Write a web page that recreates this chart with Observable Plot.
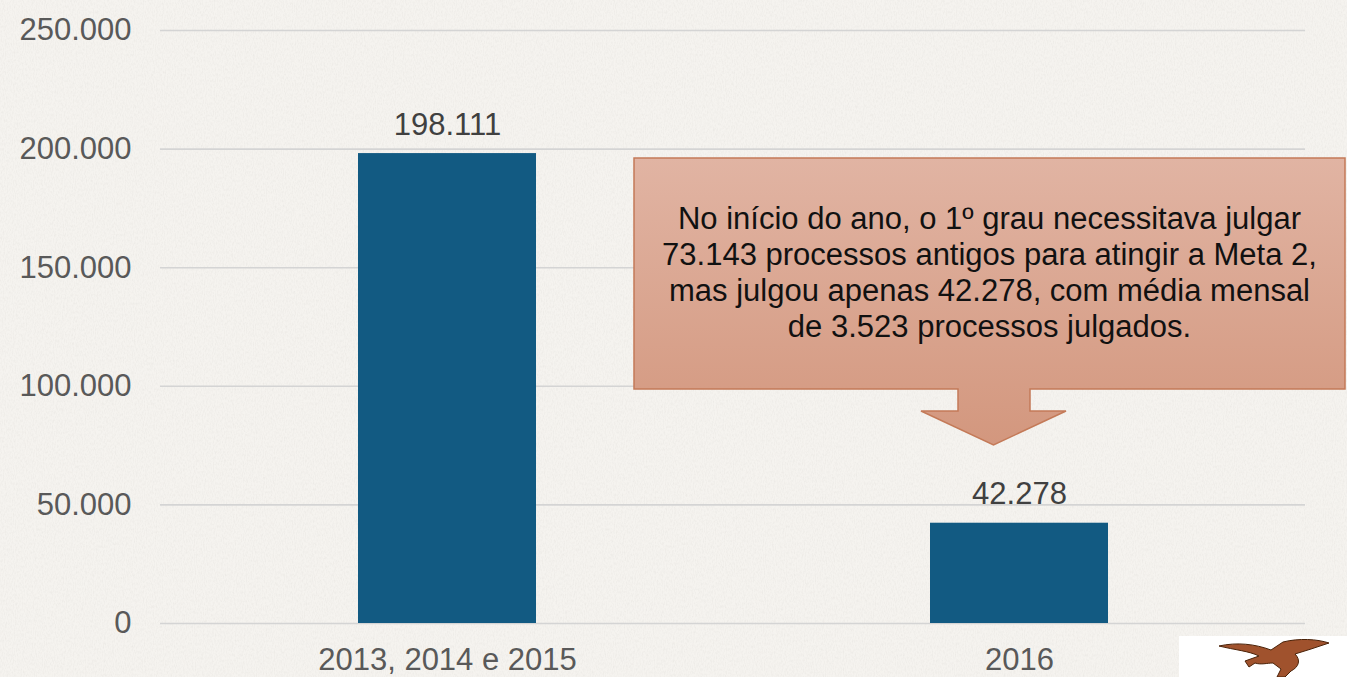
<!DOCTYPE html>
<html>
<head>
<meta charset="utf-8">
<script src="https://cdn.jsdelivr.net/npm/d3@7"></script>
<script src="https://cdn.jsdelivr.net/npm/@observablehq/plot@0.6"></script>
<style>
  html, body { margin: 0; padding: 0; overflow: hidden; }
  body { width: 1347px; height: 677px; background: #f4f2ee; }
  #wrap { position: relative; width: 1347px; height: 677px; }
  #bgtex { position: absolute; left: 0; top: 0; }
  #chart { position: absolute; left: 0; top: 0; }
  #callout { position: absolute; left: 0; top: 0; pointer-events: none; }
  #logo { position: absolute; left: 1179px; top: 636px; }
</style>
</head>
<body>
<div id="wrap">
  <svg id="bgtex" width="1347" height="677">
    <filter id="paper">
      <feTurbulence type="fractalNoise" baseFrequency="0.9 0.35" numOctaves="3" seed="4"/>
      <feColorMatrix type="matrix" values="0 0 0 0 0.55  0 0 0 0 0.53  0 0 0 0 0.5  0 0 0 0.9 -0.35"/>
    </filter>
    <rect width="1347" height="677" fill="#f5f3ef"/>
    <rect width="1347" height="677" filter="url(#paper)" opacity="0.35"/>
  </svg>
  <div id="chart"></div>
  <svg id="callout" width="1347" height="677"></svg>
  <svg id="logo" width="168" height="41">
    <rect width="168" height="41" fill="#ffffff"/>
    <path d="M40,10 C58,6 76,8 92,14 L104,6 C120,2 138,3 150,7 L132,13 L116,18 C122,24 120,31 112,35 L106,41 L98,41 L102,33 L94,27 C88,27 82,29 76,27 L70,31 L66,25 L80,20 C70,15 56,14 40,10 Z" fill="#a0522d" stroke="#4a2208" stroke-width="1"/>
  </svg>
</div>
<script>
// ---- data ----
const categories = ["2013, 2014 e 2015", "2016"];
const values = [198111, 42278];
const yTicks = [0, 50000, 100000, 150000, 200000, 250000];
const calloutLines = [
  "No início do ano, o 1º grau necessitava julgar",
  "73.143 processos antigos para atingir a Meta 2,",
  "mas julgou apenas 42.278, com média mensal",
  "de 3.523 processos julgados."
];

const data = categories.map((c, i) => ({category: c, value: values[i]}));

const locale = d3.formatLocale({decimal: ",", thousands: ".", grouping: [3], currency: ["", ""]});
const fmt = locale.format(",d");

const font = "'Liberation Sans', Arial, sans-serif";
const fs = 31;

const chart = Plot.plot({
  width: 1347,
  height: 677,
  marginLeft: 160,
  marginRight: 42,
  marginTop: 30,
  marginBottom: 54,
  style: {fontSize: fs + "px", fontFamily: font, background: "transparent", color: "#595959", overflow: "visible"},
  x: {domain: categories, paddingInner: 0.689, paddingOuter: 0.3445, label: null},
  y: {domain: [0, 250000], label: null},
  marks: [
    Plot.ruleY(yTicks, {stroke: "#d4d4d4", strokeWidth: 1.6}),
    Plot.barY(data, {x: "category", y: "value", fill: "#125a82"}),
    Plot.text(data, {x: "category", y: "value", text: d => fmt(d.value), dy: -29, lineAnchor: "middle", fill: "#404040", fontSize: fs}),
    Plot.axisX({tickSize: 0, tickPadding: 24, fill: "#595959", fontSize: fs, label: null}),
    Plot.axisY({tickSize: 0, tickPadding: 29, tickFormat: fmt, ticks: yTicks, fill: "#595959", fontSize: fs, label: null})
  ]
});
document.getElementById("chart").appendChild(chart);

// ---- callout annotation ----
const svg = d3.select("#callout");
const defs = svg.append("defs");
const grad = defs.append("linearGradient").attr("id", "cg").attr("x1", 0).attr("y1", 0).attr("x2", 0).attr("y2", 1);
grad.append("stop").attr("offset", "0%").attr("stop-color", "#e1b4a3");
grad.append("stop").attr("offset", "100%").attr("stop-color", "#d3977e");

const L = 634, R = 1345, T = 158, B = 389;
const sL = 958, sR = 1030, hY = 411, hL = 921, hR = 1066, tipX = 993.5, tipY = 445;
const path = `M${L},${T} H${R} V${B} H${sR} V${hY} H${hR} L${tipX},${tipY} L${hL},${hY} H${sL} V${B} H${L} Z`;
svg.append("path").attr("d", path).attr("fill", "url(#cg)").attr("stroke", "#c47a58").attr("stroke-width", 1.5);

const cx = (L + R) / 2;
const lineYs = [218, 254, 290, 326];
svg.selectAll("text.c").data(calloutLines).join("text")
  .attr("x", cx).attr("y", (d, i) => lineYs[i])
  .attr("text-anchor", "middle").attr("dominant-baseline", "central")
  .attr("font-family", font).attr("font-size", fs).attr("fill", "#111")
  .text(d => d);
</script>
</body>
</html>
